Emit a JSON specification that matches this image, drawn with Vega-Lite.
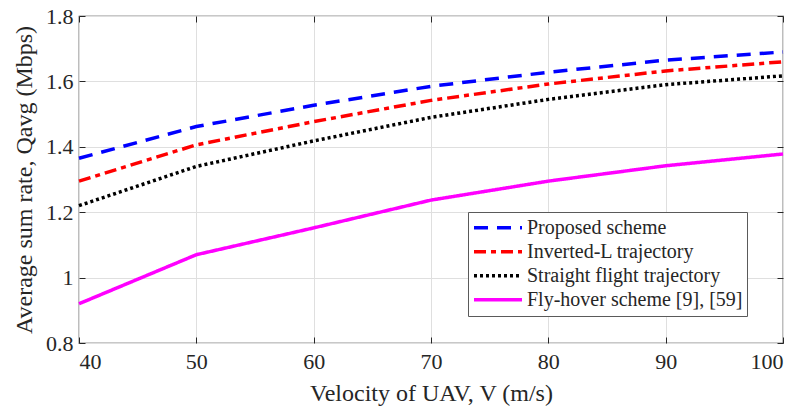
{
  "$schema": "https://vega.github.io/schema/vega-lite/v6.json",
  "width": 704,
  "height": 327,
  "autosize": "none",
  "padding": {"left": 79, "top": 16, "right": 18, "bottom": 65},
  "background": "white",
  "config": {
    "view": {"stroke": "#262626", "strokeWidth": 1.2},
    "font": "serif",
    "axis": {
      "labelFont": "serif",
      "titleFont": "serif",
      "labelFontSize": 22,
      "titleFontSize": 24,
      "labelColor": "#262626",
      "titleColor": "#262626",
      "titleFontWeight": "normal",
      "domain": false,
      "tickColor": "#262626",
      "tickSize": -6,
      "gridColor": "#dfdfdf",
      "gridWidth": 1
    },
    "legend": {
      "labelFont": "serif"
    }
  },
  "data": {
    "values": [
      {"v": 40, "rate": 1.365, "s": "Proposed scheme"},
      {"v": 50, "rate": 1.462, "s": "Proposed scheme"},
      {"v": 60, "rate": 1.527, "s": "Proposed scheme"},
      {"v": 70, "rate": 1.585, "s": "Proposed scheme"},
      {"v": 80, "rate": 1.628, "s": "Proposed scheme"},
      {"v": 90, "rate": 1.665, "s": "Proposed scheme"},
      {"v": 100, "rate": 1.69, "s": "Proposed scheme"},
      {"v": 40, "rate": 1.295, "s": "Inverted-L trajectory"},
      {"v": 50, "rate": 1.406, "s": "Inverted-L trajectory"},
      {"v": 60, "rate": 1.477, "s": "Inverted-L trajectory"},
      {"v": 70, "rate": 1.542, "s": "Inverted-L trajectory"},
      {"v": 80, "rate": 1.592, "s": "Inverted-L trajectory"},
      {"v": 90, "rate": 1.632, "s": "Inverted-L trajectory"},
      {"v": 100, "rate": 1.66, "s": "Inverted-L trajectory"},
      {"v": 40, "rate": 1.22, "s": "Straight flight trajectory"},
      {"v": 50, "rate": 1.34, "s": "Straight flight trajectory"},
      {"v": 60, "rate": 1.418, "s": "Straight flight trajectory"},
      {"v": 70, "rate": 1.49, "s": "Straight flight trajectory"},
      {"v": 80, "rate": 1.545, "s": "Straight flight trajectory"},
      {"v": 90, "rate": 1.59, "s": "Straight flight trajectory"},
      {"v": 100, "rate": 1.617, "s": "Straight flight trajectory"},
      {"v": 40, "rate": 0.92, "s": "Fly-hover scheme [9], [59]"},
      {"v": 50, "rate": 1.07, "s": "Fly-hover scheme [9], [59]"},
      {"v": 60, "rate": 1.152, "s": "Fly-hover scheme [9], [59]"},
      {"v": 70, "rate": 1.237, "s": "Fly-hover scheme [9], [59]"},
      {"v": 80, "rate": 1.295, "s": "Fly-hover scheme [9], [59]"},
      {"v": 90, "rate": 1.342, "s": "Fly-hover scheme [9], [59]"},
      {"v": 100, "rate": 1.378, "s": "Fly-hover scheme [9], [59]"}
    ]
  },
  "layer": [
    {
      "mark": {"type": "line", "strokeWidth": 3.5, "strokeCap": "butt"},
      "encoding": {
        "x": {
          "field": "v", "type": "quantitative",
          "scale": {"domain": [40, 100], "nice": false},
          "axis": {"orient": "bottom", "values": [40, 50, 60, 70, 80, 90, 100], "title": "Velocity of UAV, V (m/s)", "labelPadding": 14, "titlePadding": 9}
        },
        "y": {
          "field": "rate", "type": "quantitative",
          "scale": {"domain": [0.8, 1.8], "nice": false, "zero": false},
          "axis": {"orient": "left", "values": [0.8, 1, 1.2, 1.4, 1.6, 1.8], "format": "~g", "title": "Average sum rate, Qavg (Mbps)", "labelPadding": 12, "titlePadding": 9}
        },
        "color": {
          "field": "s", "type": "nominal",
          "scale": {
            "domain": ["Proposed scheme", "Inverted-L trajectory", "Straight flight trajectory", "Fly-hover scheme [9], [59]"],
            "range": ["#0000ff", "#ff0000", "#000000", "#ff00ff"]
          },
          "legend": {
            "orient": "none", "legendX": 389, "legendY": 196, "title": null,
            "symbolType": "stroke", "symbolSize": 2300, "symbolStrokeWidth": 3.5,
            "labelFont": "serif", "labelFontSize": 20, "labelColor": "#262626", "labelLimit": 400,
            "fillColor": "white", "strokeColor": "#5a5a5a", "padding": 4, "rowPadding": 0,
            "clipHeight": 23.5, "labelOffset": 3
          }
        },
        "strokeDash": {
          "field": "s", "type": "nominal",
          "scale": {
            "domain": ["Proposed scheme", "Inverted-L trajectory", "Straight flight trajectory", "Fly-hover scheme [9], [59]"],
            "range": [[14, 9], [12, 5, 5, 5], [3, 3], [1, 0]]
          },
          "legend": {
            "orient": "none", "legendX": 389, "legendY": 196, "title": null,
            "symbolType": "stroke", "symbolSize": 2300, "symbolStrokeWidth": 3.5,
            "labelFont": "serif", "labelFontSize": 20, "labelColor": "#262626", "labelLimit": 400,
            "fillColor": "white", "strokeColor": "#5a5a5a", "padding": 4, "rowPadding": 0,
            "clipHeight": 23.5, "labelOffset": 3
          }
        }
      }
    },
    {
      "mark": {"type": "line", "opacity": 0},
      "encoding": {
        "x": {
          "field": "v", "type": "quantitative",
          "scale": {"domain": [40, 100], "nice": false},
          "axis": {"orient": "top", "values": [40, 50, 60, 70, 80, 90, 100], "labels": false, "grid": false, "title": null}
        },
        "y": {
          "field": "rate", "type": "quantitative",
          "scale": {"domain": [0.8, 1.8], "nice": false, "zero": false},
          "axis": {"orient": "right", "values": [0.8, 1, 1.2, 1.4, 1.6, 1.8], "labels": false, "grid": false, "title": null}
        },
        "detail": {"field": "s", "type": "nominal"}
      }
    }
  ],
  "resolve": {"axis": {"x": "independent", "y": "independent"}}
}
